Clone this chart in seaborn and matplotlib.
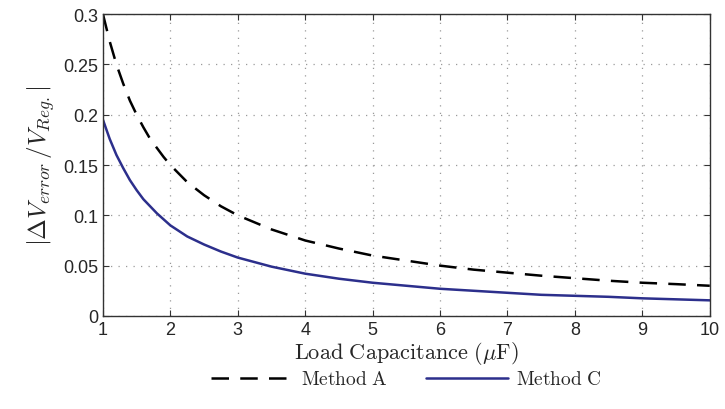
import pandas as pd
import matplotlib
matplotlib.use("Agg")
import matplotlib.pyplot as plt
import seaborn as sns

# values
cap_uF = [1, 1.1, 1.2, 1.3, 1.4, 1.5, 1.6, 1.7, 1.8, 1.9, 2, 2.25, 2.5, 2.75,
          3, 3.5, 4, 4.5, 5, 5.5, 6, 6.5, 7, 7.5, 8, 8.5, 9, 9.5, 10]
method_a = [0.300, 0.273, 0.250, 0.231, 0.214, 0.200, 0.1875, 0.176, 0.167,
            0.158, 0.150, 0.133, 0.120, 0.109, 0.100, 0.086, 0.075, 0.067,
            0.060, 0.055, 0.050, 0.046, 0.043, 0.040, 0.0375, 0.035, 0.033,
            0.0316, 0.030]
method_c = [0.195, 0.176, 0.160, 0.147, 0.135, 0.125, 0.116, 0.109, 0.102,
            0.096, 0.090, 0.079, 0.071, 0.064, 0.058, 0.049, 0.042, 0.037,
            0.033, 0.030, 0.027, 0.025, 0.023, 0.021, 0.020, 0.019, 0.0175,
            0.0165, 0.0155]
x_ticks = [1, 2, 3, 4, 5, 6, 7, 8, 9, 10]
y_ticks = [0, 0.05, 0.1, 0.15, 0.2, 0.25, 0.3]

lab_a = r'$\mathrm{Method\ A}$'
lab_c = r'$\mathrm{Method\ C}$'
df = pd.DataFrame({
    'cap': cap_uF + cap_uF,
    'err': method_a + method_c,
    'method': [lab_a] * len(cap_uF) + [lab_c] * len(cap_uF),
})

sns.set_style('white')
plt.rcParams['font.family'] = ['Liberation Sans', 'DejaVu Sans']
plt.rcParams['mathtext.fontset'] = 'cm'

fig, ax = plt.subplots(figsize=(7.25, 4.1), dpi=100)
fig.subplots_adjust(left=0.142, right=0.979, top=0.963, bottom=0.227)

sns.lineplot(data=df, x='cap', y='err', hue='method', style='method',
             palette={lab_a: 'black', lab_c: '#2c2f8c'},
             dashes={lab_a: (7, 4.5), lab_c: ''},
             linewidth=1.8, ax=ax)

ax.set_xlim(1, 10)
ax.set_ylim(0, 0.3)
ax.set_xticks(x_ticks)
ax.set_yticks(y_ticks)
ax.set_yticklabels(['0', '0.05', '0.1', '0.15', '0.2', '0.25', '0.3'])
ax.tick_params(labelsize=13, direction='in', length=4, top=True, right=True,
               bottom=True, left=True, color='#333333')
ax.grid(True, ls=(0, (1, 5)), color='#9a9a9a', lw=0.9)
for s in ax.spines.values():
    s.set_color('#333333')
    s.set_linewidth(1.0)

ax.set_xlabel(r'$\mathrm{Load\ Capacitance\ (}\mu\mathrm{F)}$', fontsize=16, labelpad=1)
ax.set_ylabel(r'$|\Delta V_{error}\,/V_{Reg.}|$', fontsize=18, labelpad=4)

ax.legend(title=None, loc='upper center', bbox_to_anchor=(0.5, -0.155),
          ncol=2, frameon=False, fontsize=14, handlelength=4.2,
          columnspacing=2.0, handletextpad=0.4, borderaxespad=0)

plt.savefig('out.png', dpi=100)
plt.close()
